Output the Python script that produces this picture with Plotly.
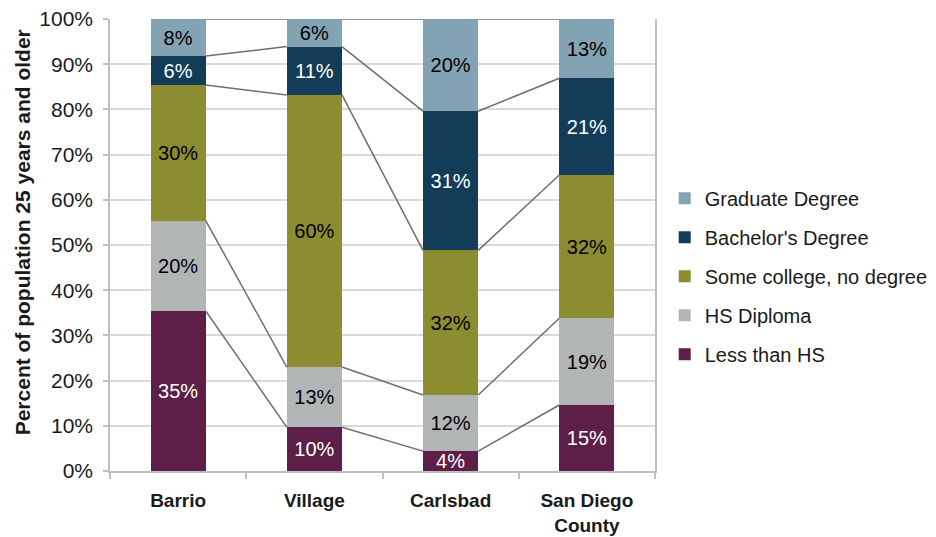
import plotly.graph_objects as go

categories = ["Barrio", "Village", "Carlsbad", "San Diego<br>County"]
series_names = ["Less than HS", "HS Diploma", "Some college, no degree",
                "Bachelor's Degree", "Graduate Degree"]
less_than_hs = [35.4, 9.7, 4.4, 14.6]
hs_diploma = [20.0, 13.3, 12.4, 19.2]
some_college = [30.0, 60.2, 32.0, 31.7]
bachelors = [6.4, 10.7, 30.8, 21.4]
graduate = [8.2, 6.1, 20.4, 13.1]
tick_vals_y = [0, 10, 20, 30, 40, 50, 60, 70, 80, 90, 100]

series_values = [less_than_hs, hs_diploma, some_college, bachelors, graduate]
colors = ["#5D1F48", "#B2B5B6", "#8C8C30", "#123C58", "#82A3B3"]
text_colors = ["white", "black", "black", "white", "black"]

FONT = "Liberation Sans"
BAR_W = 0.405
xs = list(range(len(categories)))

fig = go.Figure()

n = len(series_names)
for k, (name, vals, col, tcol) in enumerate(zip(series_names, series_values, colors, text_colors)):
    fig.add_trace(go.Bar(
        x=xs, y=vals, name=name, width=BAR_W,
        marker=dict(color=col, line=dict(width=0)),
        text=[f"{round(v):.0f}%" for v in vals],
        textposition="inside", insidetextanchor="middle", textangle=0,
        textfont=dict(color=tcol, size=20, family=FONT),
        legendgroup=name, legendrank=n - k,
        hoverinfo="skip",
    ))

# connector lines between cumulative boundaries
cum = [0.0] * len(categories)
for vals in series_values:
    cum = [c + v for c, v in zip(cum, vals)]
    lx, ly = [], []
    for i in range(len(categories) - 1):
        lx += [i + BAR_W / 2, i + 1 - BAR_W / 2, None]
        ly += [cum[i], cum[i + 1], None]
    fig.add_trace(go.Scatter(x=lx, y=ly, mode="lines",
                             line=dict(color="#6E6E6E", width=1.5),
                             showlegend=False, hoverinfo="skip"))

# invisible trace to attach separator ticks axis
fig.add_trace(go.Scatter(x=[-0.5, 3.5], y=[0, 0], xaxis="x2", mode="lines",
                         line=dict(width=0), showlegend=False, hoverinfo="skip"))

fig.update_layout(
    width=928, height=529,
    barmode="stack",
    plot_bgcolor="white", paper_bgcolor="white",
    margin=dict(l=102, r=281, t=11, b=66, autoexpand=False),
    font=dict(family=FONT, size=20, color="#1a1a1a"),
    uniformtext=dict(mode="show", minsize=20),
    showlegend=True,
    legend=dict(traceorder="grouped", tracegroupgap=10,
                x=1.0178, xanchor="left", y=0.431, yanchor="middle",
                font=dict(size=20, family=FONT, color="#1a1a1a"),
                itemwidth=30, bgcolor="rgba(0,0,0,0)"),
    xaxis=dict(range=[-0.5, 3.5], tickvals=xs, ticktext=categories,
               tickfont=dict(size=19, family=FONT, color="#1a1a1a", weight="bold"),
               showgrid=False, zeroline=False, showline=False, ticks="",
               automargin=False, ticklabelstandoff=16),
    xaxis2=dict(range=[-0.5, 3.5], overlaying="x", side="bottom",
                anchor="y", automargin=False,
                tickvals=[-0.5, 0.5, 1.5, 2.5, 3.5], ticktext=["", "", "", "", ""],
                ticks="outside", ticklen=6, tickwidth=1.5, tickcolor="#BFBFBF",
                showline=True, linecolor="#BFBFBF", linewidth=1.5,
                showgrid=False, zeroline=False),
    yaxis=dict(range=[0, 100], tickvals=tick_vals_y,
               ticktext=[f"{v}%" for v in tick_vals_y],
               tickfont=dict(size=21, family=FONT, color="#1a1a1a"),
               showgrid=True, gridcolor="#D9D9D9", gridwidth=1.5,
               showline=True, linecolor="#BFBFBF", linewidth=1.5, mirror=True,
               ticks="outside", ticklen=5, tickwidth=1.5, tickcolor="#BFBFBF",
               zeroline=False, automargin=False, ticklabelstandoff=6,
               ticklabeloverflow="allow"),
    annotations=[dict(text="<b>Percent of population 25 years and older</b>",
                      xref="paper", yref="paper", x=-0.1615, y=0.528,
                      xanchor="center", yanchor="middle", textangle=-90,
                      showarrow=False,
                      font=dict(size=21, family=FONT, color="#1a1a1a"))],
)

fig.write_html("out.html")
